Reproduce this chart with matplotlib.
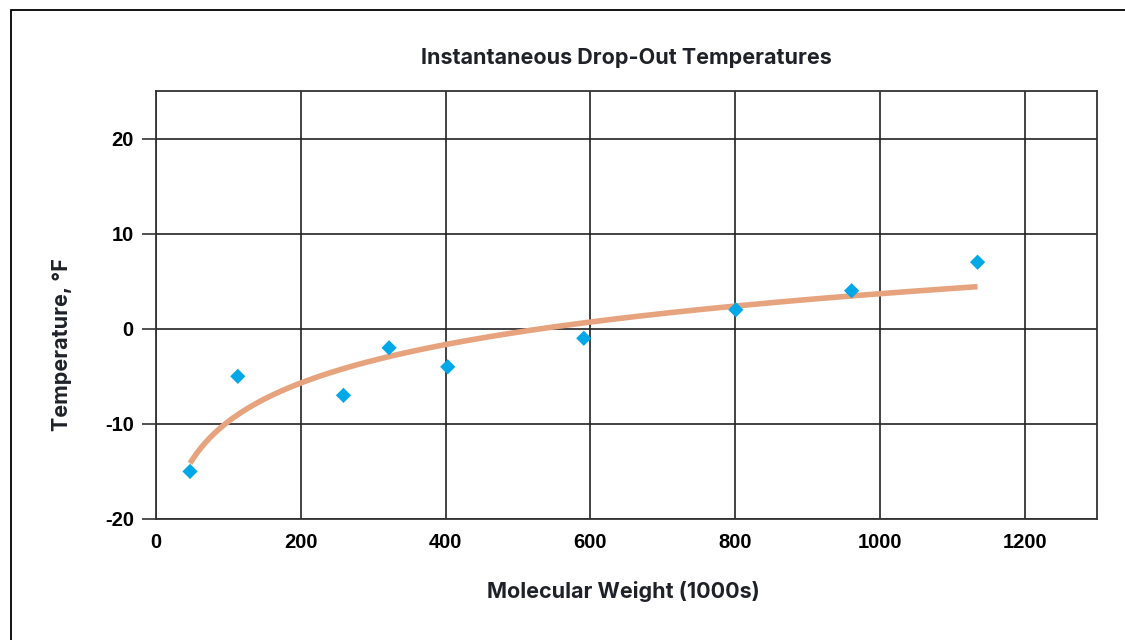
import numpy as np
import matplotlib
matplotlib.use("Agg")
import matplotlib.pyplot as plt
from matplotlib.patches import Rectangle

plt.rcParams["axes.unicode_minus"] = False

# Data
mol_weight = [47, 113, 259, 322, 403, 591, 801, 961, 1135]
temperature = [-15, -5, -7, -2, -4, -1, 2, 4, 7]
x_ticks = [0, 200, 400, 600, 800, 1000, 1200]
y_ticks = [-20, -10, 0, 10, 20]
title = "Instantaneous Drop-Out Temperatures"
x_label = "Molecular Weight (1000s)"
y_label = "Temperature, °F"

# Logarithmic trendline fitted to the data
xs = np.array(mol_weight, dtype=float)
ys = np.array(temperature, dtype=float)
a, b = np.polyfit(np.log(xs), ys, 1)
xt = np.linspace(xs.min(), xs.max(), 200)
yt = a * np.log(xt) + b

fig = plt.figure(figsize=(11.25, 6.4), dpi=100)
ax = fig.add_axes([156/1125, 1 - 519/640, (1097-156)/1125, (519-91)/640])

# Outer border
fig.patches.append(Rectangle((11/1125, -0.1), 1.2, (640-10)/640 + 0.1,
                             transform=fig.transFigure, fill=False,
                             edgecolor="black", linewidth=1.3))

ax.plot(xt, yt, color="#E6A37E", linewidth=4, solid_capstyle="butt", zorder=3)
ax.scatter(mol_weight, temperature, marker="D", s=60, color="#00A8E8",
           edgecolors="none", zorder=4)

ax.set_xlim(0, 1300)
ax.set_ylim(-20, 25)
ax.set_xticks(x_ticks)
ax.set_yticks(y_ticks)
ax.grid(True, color="#222222", linewidth=1.2)
ax.set_axisbelow(True)
for s in ax.spines.values():
    s.set_color("#333333")
    s.set_linewidth(1.3)

ax.tick_params(axis="x", length=0, pad=10)
ax.tick_params(axis="y", length=10, width=1.2, color="#333333", pad=6)
for lab in ax.get_xticklabels() + ax.get_yticklabels():
    lab.set_fontfamily(["Liberation Sans", "DejaVu Sans"])
    lab.set_fontweight("bold")
    lab.set_fontsize(14.5)
    lab.set_color("black")

lab_font = dict(family=["Inter", "DejaVu Sans"], weight="bold", size=15.5, color="#1E2228")
fig.text(626/1125, 1 - 58/640, title, ha="center", va="center",
         family=["Inter", "DejaVu Sans"], weight="bold", size=15.5, color="#1E2228")
fig.text(623/1125, 1 - 592/640, x_label, ha="center", va="center", **lab_font)
fig.text(62/1125, 1 - 345/640, y_label, ha="center", va="center", rotation=90, **lab_font)

fig.savefig("out.png", dpi=100)
